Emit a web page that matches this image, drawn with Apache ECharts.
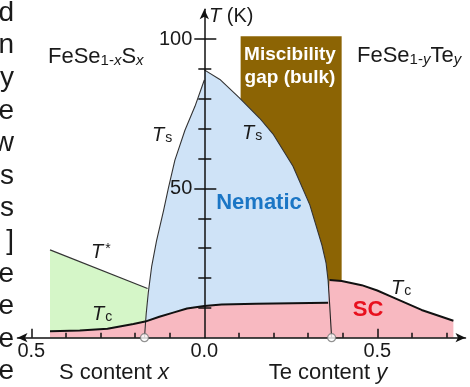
<!DOCTYPE html>
<html>
<head>
<meta charset="utf-8">
<script src="https://cdn.jsdelivr.net/npm/echarts@6/dist/echarts.min.js"></script>
<style>html,body{margin:0;padding:0;background:#fff;}#c{width:470px;height:387px;}</style>
</head>
<body>
<div id="c"></div>
<script>
// ---- data (x < 0 : S content x shown as |x| ; x > 0 : Te content y) ----
const tsSide = [[-0.173,0],[-0.168,8],[-0.162,15],[-0.152,24],[-0.138,32.5],[-0.118,42.5],[-0.104,50],[-0.085,59.5],[-0.056,69.5],[-0.027,77.5],[0,86.3]];
const tsTe = [[0,89.7],[0.045,86.5],[0.10,80.5],[0.16,73.5],[0.20,68],[0.256,57.5],[0.305,44.5],[0.34,31],[0.352,25],[0.358,19]];
const boundaryTe = [[0.358,19],[0.362,11.7],[0.368,0]];
const tStar = [[-0.446,29.4],[-0.164,16.5]];
const tcS = [[-0.446,2.2],[-0.36,2.4],[-0.28,3.0],[-0.205,4.6],[-0.171,5.4],[-0.13,7.0],[-0.09,8.4],[-0.05,9.8],[0,10.6]];
const tcTeNematic = [[0,10.6],[0.05,11.1],[0.15,11.4],[0.358,11.7]];
const tcTeSC = [[0.362,19.3],[0.397,19.0],[0.455,17.6],[0.50,15.8],[0.542,13.7],[0.628,9.3],[0.72,5.7]];
const gapBulk = [[0.105,101],[0.397,101]];
const endPoints = [[-0.173,0],[0.368,0]];
const xMinorTicks = [-0.5,-0.4,-0.3,-0.2,-0.1,0.1,0.2,0.3,0.4,0.5,0.6,0.7];
const xMajorTicks = [-0.5,0.5];
const xTickLabels = [-0.5,0,0.5];
const yMinorTicks = [10,20,30,40,50,60,70,80,90,100];
const yMajorTicks = [50,100];
const sideLetters = ['d','n','y','e','w','s','s',']','e','e','e','e'];

const FF = 'Liberation Sans, Arial, Helvetica, sans-serif';
const INK = '#1a1a1a';
const X_MIN = -0.54, X_MAX = 0.755, GRID_L = 17.5, GRID_R = 4.5, W = 470;
// y axes sit at x = 0 of the x scale: offset computed from the grid geometry
const Y_OFFSET = -((0 - X_MIN) / (X_MAX - X_MIN)) * (W - GRID_L - GRID_R);

const chart = echarts.init(document.getElementById('c'), null, {renderer:'canvas'});

function yAx(extra){
  return Object.assign({type:'value', min:0, max:110, position:'left', offset:Y_OFFSET, splitLine:{show:false}, axisLabel:{show:false}, z:10,
    axisLine:{show:false, onZero:false}}, extra);
}
const tickLine = {color:'#111', width:1.5};

function rt(x, y, text, rich, align){
  return {type:'text', x:x, y:y, z:100, silent:true,
    style:{text:text, rich:rich, align:align||'left', textAlign:align||'left', verticalAlign:'middle', textVerticalAlign:'middle', fill:INK, fontFamily:FF, fontSize:20}};
}
const rMain22 = {fontSize:22, lineHeight:22, fontFamily:FF, fill:INK, verticalAlign:'top'};
const rSub15 = {fontSize:15, lineHeight:15, padding:[11,0,0,0], fontFamily:FF, fill:INK, verticalAlign:'bottom'};
const rSub15i = Object.assign({}, rSub15, {fontStyle:'italic'});
const richFormula = {m:rMain22, s:rSub15, si:rSub15i};
const rT = {fontSize:20, lineHeight:20, fontStyle:'italic', fontFamily:FF, fill:INK, verticalAlign:'top'};
const rTs = {fontSize:14, lineHeight:14, padding:[9,0,0,1], fontFamily:FF, fill:INK, verticalAlign:'bottom'};
const richTs = {t:rT, s:rTs};
const richStar = {t:{fontSize:20, lineHeight:20, padding:[5,0,0,0], fontStyle:'italic', fontFamily:FF, fill:INK, verticalAlign:'bottom'},
                  p:{fontSize:14, lineHeight:14, padding:[0,0,0,2], fontFamily:FF, fill:INK, verticalAlign:'top'}};

const graphics = [];
sideLetters.forEach(function(ch, i){
  graphics.push({type:'text', x:14, y:13 + i*32.6, z:100, silent:true,
    style:{text:ch, fontSize:28, fontFamily:FF, fill:INK, align:'right', textAlign:'right', verticalAlign:'middle', textVerticalAlign:'middle'}});
});
graphics.push(rt(48, 57, '{m|FeSe}{s|1-}{si|x}{m|S}{si|x}', richFormula));
graphics.push(rt(357, 56, '{m|FeSe}{s|1-}{si|y}{m|Te}{si|y}', richFormula));
graphics.push(rt(209, 16, '{t|T}{m| (K)}', {t:{fontSize:20, fontStyle:'italic', fontFamily:FF, fill:INK}, m:{fontSize:20, fontFamily:FF, fill:INK}}));
graphics.push({type:'text', x:290, y:55, z:100, silent:true, style:{text:'Miscibility', fontSize:19, fontWeight:'bold', fontFamily:FF, fill:'#ffffff', align:'center', textAlign:'center', verticalAlign:'middle', textVerticalAlign:'middle'}});
graphics.push({type:'text', x:290, y:78, z:100, silent:true, style:{text:'gap (bulk)', fontSize:19, fontWeight:'bold', fontFamily:FF, fill:'#ffffff', align:'center', textAlign:'center', verticalAlign:'middle', textVerticalAlign:'middle'}});
graphics.push(rt(152, 135, '{t|T}{s|s}', richTs));
graphics.push(rt(242, 133, '{t|T}{s|s}', richTs));
graphics.push({type:'text', x:259, y:203, z:100, silent:true, style:{text:'Nematic', fontSize:22, fontWeight:'bold', fontFamily:FF, fill:'#1b76c5', align:'center', textAlign:'center', verticalAlign:'middle', textVerticalAlign:'middle'}});
graphics.push(rt(91, 252, '{t|T}{p|*}', richStar));
graphics.push(rt(92, 314, '{t|T}{s|c}', richTs));
graphics.push(rt(391, 288, '{t|T}{s|c}', richTs));
graphics.push({type:'text', x:368, y:310, z:100, silent:true, style:{text:'SC', fontSize:22, fontWeight:'bold', fontFamily:FF, fill:'#e8101e', align:'center', textAlign:'center', verticalAlign:'middle', textVerticalAlign:'middle'}});
const richAxis = {m:{fontSize:22, fontFamily:FF, fill:INK}, i:{fontSize:22, fontStyle:'italic', fontFamily:FF, fill:INK}};
graphics.push(rt(114, 373, '{m|S content }{i|x}', richAxis, 'center'));
graphics.push(rt(328, 373, '{m|Te content }{i|y}', richAxis, 'center'));

function fill(data, color, z){
  return {type:'line', data:data, symbol:'none', showSymbol:false, z:z, silent:true,
    lineStyle:{width:0, opacity:0}, areaStyle:{color:color, opacity:1, origin:'start'}};
}
function stroke(data, color, width, z){
  return {type:'line', data:data, symbol:'none', showSymbol:false, z:z, silent:true,
    lineStyle:{color:color, width:width}};
}

const option = {
  animation:false,
  grid:{left:GRID_L, right:GRID_R, top:9.3, bottom:49.3, outerBoundsMode:'none', containLabel:false},
  xAxis:[
    {type:'value', min:X_MIN, max:X_MAX, position:'bottom', z:10, splitLine:{show:false},
     axisLine:{onZero:true, onZeroAxisIndex:0, symbol:['arrow','arrow'], symbolSize:[7,10], lineStyle:tickLine},
     axisTick:{show:true, inside:true, length:5, customValues:xMinorTicks, lineStyle:tickLine},
     axisLabel:{customValues:xTickLabels, formatter:function(v){return Math.abs(v).toFixed(1);}, fontSize:20, fontFamily:FF, color:INK, margin:4}},
    {type:'value', min:X_MIN, max:X_MAX, position:'bottom', z:10, splitLine:{show:false},
     axisLine:{show:false, onZero:false},
     axisTick:{show:true, inside:true, length:9, customValues:xMajorTicks, lineStyle:tickLine},
     axisLabel:{show:false}}
  ],
  yAxis:[
    yAx({axisLine:{show:true, onZero:false, symbol:['none','arrow'], symbolSize:[7,10], lineStyle:tickLine},
         axisTick:{show:true, inside:false, length:6, customValues:yMinorTicks, lineStyle:tickLine}}),
    yAx({axisTick:{show:true, inside:true, length:7, customValues:yMinorTicks, lineStyle:tickLine}}),
    yAx({axisTick:{show:true, inside:false, length:10, customValues:yMajorTicks, lineStyle:tickLine},
         axisLabel:{show:true, customValues:yMajorTicks, fontSize:20, fontFamily:FF, color:INK, margin:12}}),
    yAx({axisTick:{show:true, inside:true, length:12, customValues:yMajorTicks, lineStyle:tickLine}})
  ],
  series:[
    fill(gapBulk, '#8c6404', 1),
    fill(tStar, '#d5f6c8', 2),
    fill(tsSide.concat(tsTe, boundaryTe.slice(1)), '#cfe3f7', 3),
    fill(tcS.concat(tcTeNematic.slice(1), tcTeSC), '#f8b9c1', 4),
    stroke(tsSide, '#333', 1.1, 5),
    stroke(tsTe, '#333', 1.1, 5),
    stroke(boundaryTe, '#222', 1.1, 5),
    stroke(tStar, '#333', 1.2, 5),
    stroke(tcS.concat(tcTeNematic.slice(1)), '#111', 2, 6),
    stroke(tcTeSC, '#111', 2, 6),
    {type:'scatter', data:endPoints, symbol:'circle', symbolSize:8, z:20, clip:false, silent:true,
     itemStyle:{color:'#ffffff', borderColor:'#777', borderWidth:1.2}}
  ],
  graphic:{elements:graphics}
};
chart.setOption(option);
</script>
</body>
</html>
